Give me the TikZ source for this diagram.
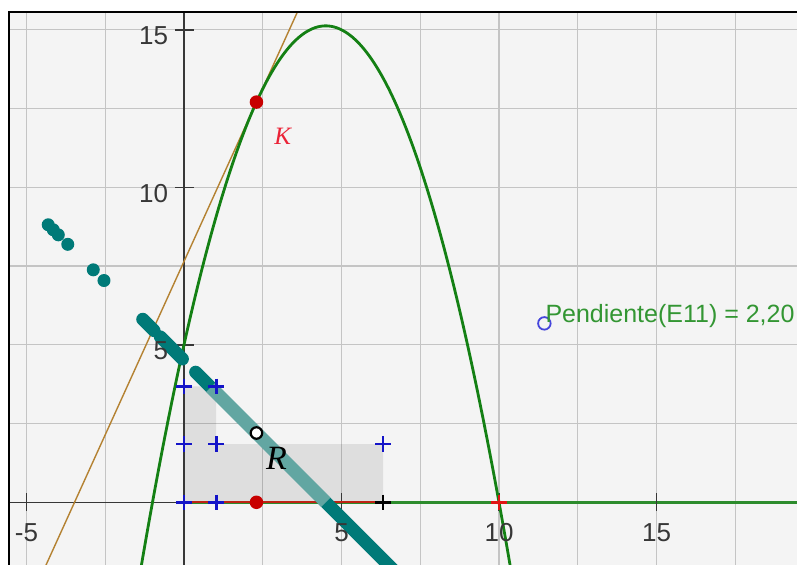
\documentclass[tikz,border=0pt]{standalone}
\usepackage{fontspec}
\setmainfont{Liberation Sans}
\newfontfamily\serifit{Liberation Serif}
\definecolor{bgc}{RGB}{244,244,244}
\definecolor{gridc}{RGB}{196,196,196}
\definecolor{axisc}{RGB}{55,55,55}
\definecolor{parabc}{RGB}{20,128,20}
\definecolor{xgreen}{RGB}{45,140,45}
\definecolor{tangc}{RGB}{180,130,50}
\definecolor{tealc}{RGB}{0,122,120}
\definecolor{tealL}{RGB}{98,166,162}
\definecolor{ptred}{RGB}{200,0,0}
\definecolor{segred}{RGB}{190,35,20}
\definecolor{crossblue}{RGB}{20,20,200}
\definecolor{crossred}{RGB}{225,20,20}
\definecolor{circblue}{RGB}{70,70,220}
\definecolor{pendc}{RGB}{51,150,51}
\definecolor{kred}{RGB}{235,35,55}
\tikzset{
  gridline/.style={gridc, line width=1.1bp},
  axisline/.style={axisc, line width=1.5bp},
  tickline/.style={axisc, line width=1.5bp},
  axlabel/.style={inner sep=0pt, text=axisc, font=\fontsize{26bp}{30bp}\selectfont},
  redpt/.style={circle, fill=ptred, inner sep=0pt, minimum size=13.5bp},
  openpt/.style={circle, draw=black, fill=white, line width=2.2bp, inner sep=0pt, minimum size=11.5bp},
  bluecirc/.style={circle, draw=circblue, line width=1.8bp, inner sep=0pt, minimum size=12.5bp},
  tracedot/.style={circle, fill=tealc, inner sep=0pt, minimum size=13bp},
  traceline/.style={tealc, line width=13bp, line cap=round},
}
\newcommand{\plusmark}[3]{% name, position, colour
  \node[inner sep=0pt, minimum size=15bp] (#1) at (#2) {};
  \draw[#3, line width=2.8bp] (#1.west) -- (#1.east) (#1.north) -- (#1.south);
}
\begin{document}
\begin{tikzpicture}[x=31.5bp,y=31.5bp]
\useasboundingbox (-5.8413,-1.9905) rectangle (19.4603,15.9460);
\fill[white] (-5.8413,-1.9905) rectangle (19.4603,15.9460);
\fill[bgc] (-5.546,-1.9905) rectangle (19.4603,15.556);
\begin{scope}
\clip (-5.546,-1.9905) rectangle (19.4603,15.556);
% grid
\foreach \gx in {-5,-2.5,2.5,5,7.5,10,12.5,15,17.5}
  \draw[gridline] (\gx,-3) -- (\gx,17);
\foreach \gy in {2.5,5,7.5,10,12.5,15}
  \draw[gridline] (-6,\gy) -- (20,\gy);
% shaded region
\fill[black, fill opacity=0.085] (0,0) -- (0,3.68) -- (1.02,3.68) -- (1.02,1.85) -- (6.32,1.85) -- (6.32,0) -- cycle;
% axes
\coordinate (xl) at (-6,0);
\coordinate (O) at (0,0);
\coordinate (xr) at (20,0);
\coordinate (yb) at (0,-3);
\coordinate (yt) at (0,17);
\draw[axisline] (xl) -- (O);
\draw[axisline] (yb) -- (yt);
\draw[xgreen, line width=2.4bp] (O) -- (xr);
\foreach \tx in {-5,5,10,15}
  \draw[tickline] (\tx,-0.27) -- (\tx,0.31);
\foreach \ty in {5,10,15}
  \draw[tickline] (-0.27,\ty) -- (0.31,\ty);
% red segment on x axis
\coordinate (Rend) at (6.32,0);
\draw[segred, line width=1.8bp] (O) -- (Rend);
% tangent line
\coordinate (t1) at (-4.7,-2.695);
\coordinate (t2) at (4,16.445);
\draw[tangc, line width=1.4bp] (t1) -- (t2);
% parabola
\draw[parabc, line width=2.8bp] plot[domain=-1.4:10.4, samples=120, smooth] ({\x},{-0.5*\x*\x+4.5*\x+5});
% trace of slope points
\foreach \dx in {-4.31,-4.15,-3.99,-3.69,-2.88,-2.54}
  \node[tracedot] at (\dx,{4.5-\dx}) {};
\coordinate (c1) at (-1.31,5.81);
\coordinate (c2) at (-0.95,5.45);
\coordinate (c3) at (-0.75,5.25);
\coordinate (c4) at (-0.05,4.55);
\draw[traceline] (c1) -- (c2);
\draw[traceline] (c3) -- (c4);
\coordinate (ts) at (0.37,4.13);
\coordinate (te) at (7,-2.5);
\draw[traceline] (ts) -- (te);
\coordinate (ls) at (0.85,3.65);
\coordinate (le) at (4.5,0);
\draw[tealL, line width=13bp, line cap=butt] (ls) -- (le);
% crosses
\plusmark{b1}{0,0}{crossblue}
\plusmark{b2}{1.02,0}{crossblue}
\plusmark{b3}{0,1.85}{crossblue}
\plusmark{b4}{1.02,1.85}{crossblue}
\plusmark{b5}{0,3.68}{crossblue}
\plusmark{b6}{1.02,3.68}{crossblue}
\plusmark{b7}{6.32,1.85}{crossblue}
\plusmark{k1}{6.32,0}{black}
\plusmark{r1}{10,0}{crossred}
% points
\node[redpt] (K) at (2.3,12.705) {};
\node[redpt] (P) at (2.3,0) {};
\node[openpt] (R) at (2.3,2.2) {};
\node[bluecirc] (B) at (11.44,5.68) {};
% labels
\node[text=kred, inner sep=0pt, font=\serifit\itshape\fontsize{25bp}{28bp}\selectfont] (Klbl) at (3.13,11.61) {K};
\node[text=black, inner sep=0pt, font=\serifit\itshape\fontsize{34bp}{38bp}\selectfont] (Rlbl) at (2.94,1.38) {R};
\node[anchor=base west, inner sep=0pt, text=pendc, font=\fontsize{25bp}{30bp}\selectfont] (pend) at (11.47,5.72) {Pendiente(E11) = 2,20};
\node[axlabel, anchor=east] (ly15) at (-0.5,14.8) {15};
\node[axlabel, anchor=east] (ly10) at (-0.5,9.8) {10};
\node[axlabel, anchor=east] (ly5) at (-0.5,4.8) {5};
\node[axlabel] (lxm5) at (-5,-0.96) {-5};
\node[axlabel] (lx5) at (5,-0.96) {5};
\node[axlabel] (lx10) at (10,-0.96) {10};
\node[axlabel] (lx15) at (15,-0.96) {15};
\end{scope}
% frame
\coordinate (f1) at (-5.546,-1.9905);
\coordinate (f2) at (-5.546,15.556);
\coordinate (f3) at (19.4603,15.556);
\draw[black, line width=2.4bp, line join=miter] (f1) -- (f2) -- (f3);
\end{tikzpicture}
\end{document}
